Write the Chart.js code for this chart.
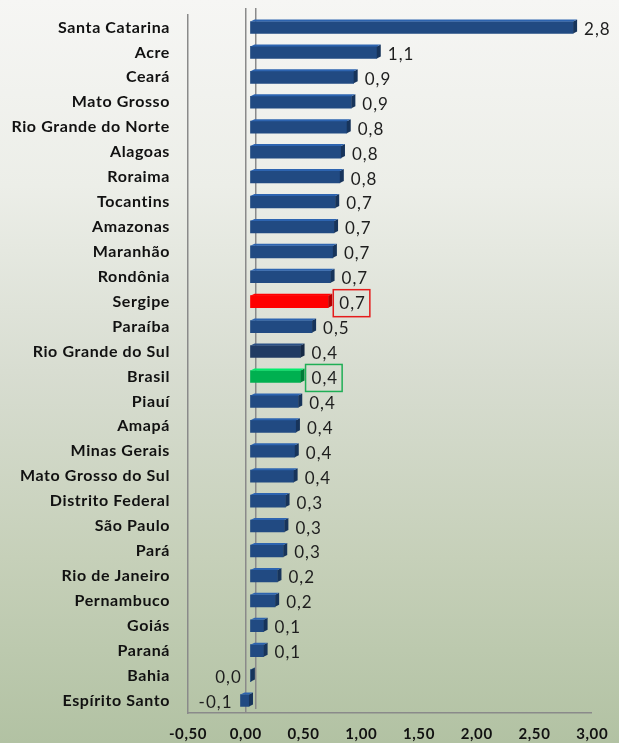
<!DOCTYPE html>
<html>
<head>
<meta charset="utf-8">
<script src="https://cdn.jsdelivr.net/npm/chart.js@4.4.1/dist/chart.umd.min.js"></script>
<style>
  html, body { margin: 0; padding: 0; }
  body {
    width: 619px; height: 743px; overflow: hidden;
    background: linear-gradient(to bottom, #f6f6f4 0%, #eceee8 25%, #d8ddd1 50%, #c6d0b9 75%, #b2c2a3 100%);
  }
  #wrap { position: relative; width: 619px; height: 743px; }
</style>
</head>
<body>
<div id="wrap"><canvas id="bar-chart"></canvas></div>
<script>
// categories, top to bottom
const estados = ['Santa Catarina', 'Acre', 'Ceará', 'Mato Grosso', 'Rio Grande do Norte', 'Alagoas',
  'Roraima', 'Tocantins', 'Amazonas', 'Maranhão', 'Rondônia', 'Sergipe', 'Paraíba',
  'Rio Grande do Sul', 'Brasil', 'Piauí', 'Amapá', 'Minas Gerais', 'Mato Grosso do Sul',
  'Distrito Federal', 'São Paulo', 'Pará', 'Rio de Janeiro', 'Pernambuco', 'Goiás',
  'Paraná', 'Bahia', 'Espírito Santo'];
const valores = [2.80, 1.10, 0.90, 0.88, 0.84, 0.79, 0.78, 0.74, 0.73, 0.72, 0.70, 0.68, 0.54,
  0.44, 0.44, 0.42, 0.40, 0.39, 0.38, 0.31, 0.30, 0.29, 0.24, 0.22, 0.12, 0.12, 0.01, -0.08];
const xTicks = [-0.5, 0, 0.5, 1, 1.5, 2, 2.5, 3];

// special bars
const corPadrao = '#214a82';
const destaques = { 'Sergipe': '#ff0000', 'Brasil': '#00b050', 'Rio Grande do Sul': '#203b63' };
const caixas = { 'Sergipe': '#e51c1c', 'Brasil': '#1fae55' };

function fmt(v, d) {
  return v.toFixed(d).replace('.', ',');
}
function shade(hex, f) {
  var n = parseInt(hex.slice(1), 16);
  var r = Math.round(((n >> 16) & 255) * f), g = Math.round(((n >> 8) & 255) * f), b = Math.round((n & 255) * f);
  return 'rgb(' + Math.min(r, 255) + ',' + Math.min(g, 255) + ',' + Math.min(b, 255) + ')';
}

const cores = estados.map(e => destaques[e] || corPadrao);
const DEPTH = 4;

// 3D look: bars pushed a bit back, side face, value labels
const barExtras = {
  id: 'barExtras',
  beforeDraw(chart) {
    chart.ctx.letterSpacing = '0.6px';
  },
  beforeDatasetsDraw(chart) {
    const ctx = chart.ctx;
    const x0 = chart.scales.x.getPixelForValue(0);
    ctx.save();
    // back wall line
    ctx.strokeStyle = '#8a8a8a';
    ctx.lineWidth = 1.5;
    ctx.beginPath();
    ctx.moveTo(x0 + 10, chart.chartArea.top - 7);
    ctx.lineTo(x0 + 10, chart.chartArea.bottom - 4);
    ctx.moveTo(x0, chart.chartArea.top - 7);
    ctx.lineTo(x0, chart.chartArea.top);
    ctx.stroke();
    ctx.translate(DEPTH, 0);
  },
  afterDatasetsDraw(chart) {
    const ctx = chart.ctx;
    const meta = chart.getDatasetMeta(0);
    const x0 = chart.scales.x.getPixelForValue(0);
    meta.data.forEach((bar, i) => {
      const top = bar.y - bar.height / 2, bot = bar.y + bar.height / 2;
      const end = Math.max(bar.x, bar.base);
      const start = Math.min(bar.x, bar.base);
      ctx.fillStyle = shade(cores[i], 0.7);
      ctx.beginPath();
      ctx.moveTo(end, top);
      ctx.lineTo(end + 4, top - 2);
      ctx.lineTo(end + 4, bot - 2);
      ctx.lineTo(end, bot);
      ctx.closePath();
      ctx.fill();
      ctx.fillStyle = shade(cores[i], 1.35);
      ctx.beginPath();
      ctx.moveTo(start, top);
      ctx.lineTo(start + 4, top - 2);
      ctx.lineTo(end + 4, top - 2);
      ctx.lineTo(end, top);
      ctx.closePath();
      ctx.fill();
    });
    ctx.restore();

    ctx.save();
    ctx.letterSpacing = '1px';
    ctx.font = '17px Lato, "Open Sans", sans-serif';
    ctx.fillStyle = '#1e1e1e';
    ctx.textBaseline = 'middle';
    meta.data.forEach((bar, i) => {
      const v = valores[i];
      const txt = fmt(v, 1);
      const end = Math.max(bar.x, bar.base) + DEPTH;
      const w = ctx.measureText(txt).width;
      let lx;
      if (v < 0.05) {
        ctx.textAlign = 'right';
        lx = Math.min(bar.x, x0) - 4;
      } else {
        ctx.textAlign = 'left';
        lx = end + 11;
      }
      ctx.fillText(txt, lx, bar.y + 2);
      if (caixas[estados[i]]) {
        ctx.strokeStyle = caixas[estados[i]];
        ctx.lineWidth = 1.5;
        ctx.strokeRect(lx - 6, bar.y - 12, w + 10, 27);
      }
    });
    ctx.restore();
  }
};

const data = {
  labels: estados,
  datasets: [{
    data: valores,
    backgroundColor: cores,
    borderWidth: 0,
    barThickness: 12
  }]
};

const config = {
  type: 'bar',
  data: data,
  options: {
    indexAxis: 'y',
    responsive: true,
    maintainAspectRatio: false,
    animation: false,
    layout: { padding: { top: 15, right: 13, left: 0, bottom: 0 } },
    plugins: {
      legend: { display: false },
      tooltip: { enabled: false }
    },
    scales: {
      x: {
        min: -0.5,
        max: 3,
        afterBuildTicks: (s) => { s.ticks = xTicks.map(v => ({ value: v })); },
        afterFit: (s) => { s.height = 30; },
        grid: {
          drawTicks: false,
          lineWidth: (c) => c.tick && c.tick.value === 0 ? 1.5 : 0,
          color: '#8a8a8a'
        },
        border: { display: true, color: '#8a8a8a', width: 1.5 },
        ticks: {
          padding: 12,
          color: '#111',
          font: { family: 'Lato, "Open Sans", sans-serif', size: 15, weight: 'bold' },
          callback: (v) => fmt(v, 2)
        }
      },
      y: {
        afterFit: (s) => { s.width = 188; s.paddingTop = 0; s.paddingBottom = 0; },
        grid: { display: false, drawTicks: false },
        border: { display: true, color: '#8a8a8a', width: 1.5 },
        ticks: {
          padding: 18,
          color: '#111',
          autoSkip: false,
          font: { family: 'Lato, "Open Sans", sans-serif', size: 16, weight: 'bold' }
        }
      }
    }
  },
  plugins: [barExtras]
};

var ctx = document.getElementById('bar-chart');
new Chart(ctx, config);
</script>
</body>
</html>
